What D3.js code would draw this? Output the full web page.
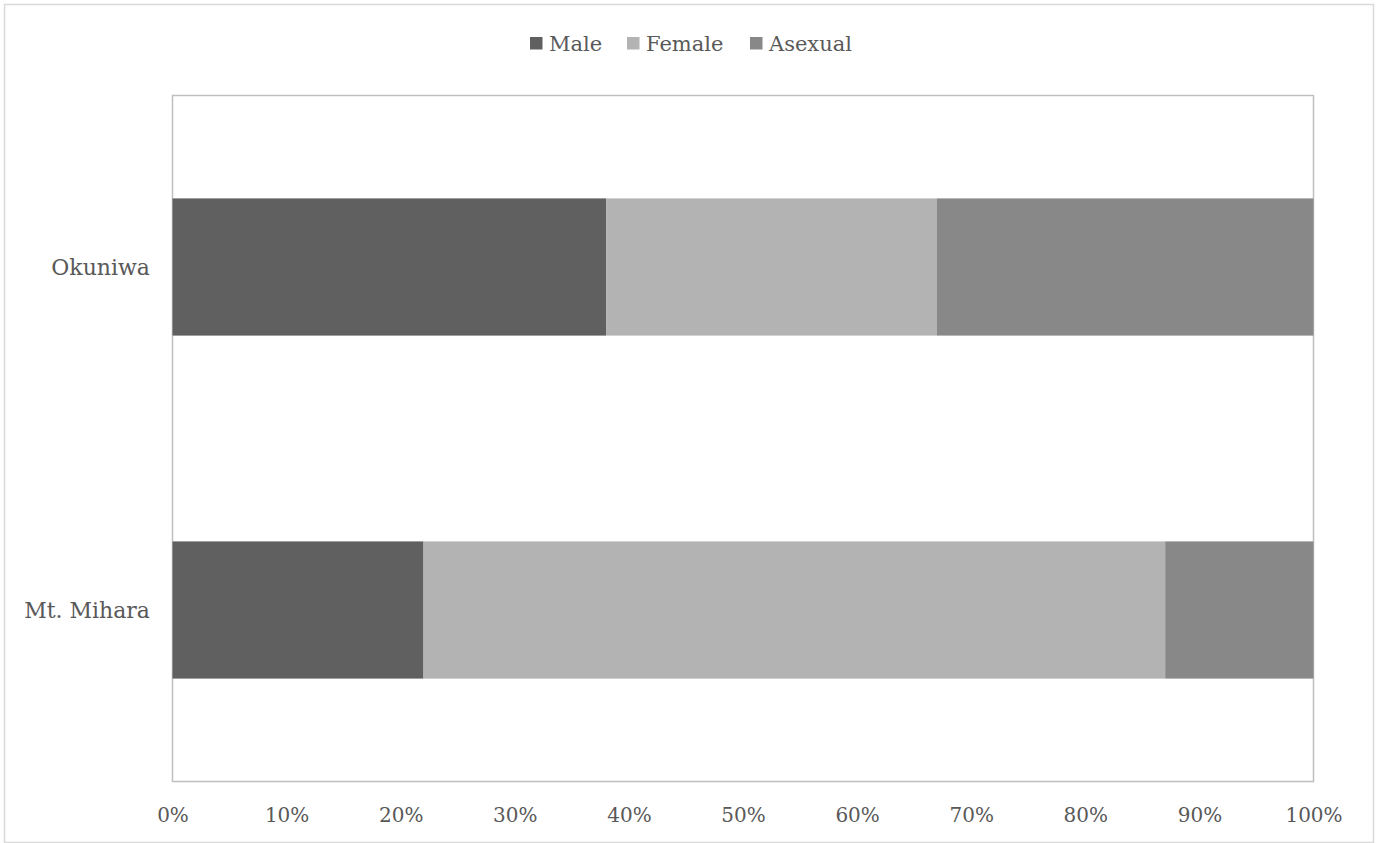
<!DOCTYPE html>
<html>
<head>
<meta charset="utf-8">
<script src="https://cdn.jsdelivr.net/npm/d3@7"></script>
<style>
  html, body { margin: 0; padding: 0; background: #fff; }
  svg text { font-family: "DejaVu Serif", serif; fill: #595959; }
</style>
</head>
<body>
<svg id="chart" width="1378" height="843"></svg>
<script>
const categories = ["Okuniwa", "Mt. Mihara"];
const seriesNames = ["Male", "Female", "Asexual"];
const maleValues = [38, 22];
const femaleValues = [29, 65];
const asexualValues = [33, 13];
const tickValues = [0, 0.1, 0.2, 0.3, 0.4, 0.5, 0.6, 0.7, 0.8, 0.9, 1.0];
const colors = ["#606060", "#b3b3b3", "#888888"];

const svg = d3.select("#chart");
const W = 1378, H = 843;
const plot = { left: 172.5, right: 1313.5, top: 95.5, bottom: 781.5 };

// outer border
svg.append("rect").attr("x", 4.5).attr("y", 4.5).attr("width", W - 9).attr("height", H - 5)
  .attr("fill", "#fff").attr("stroke", "#d9d9d9").attr("stroke-width", 1.5);

const rows = categories.map((c, i) => ({
  cat: c, Male: maleValues[i], Female: femaleValues[i], Asexual: asexualValues[i]
}));
rows.forEach(r => { const t = r.Male + r.Female + r.Asexual; seriesNames.forEach(k => r[k] = r[k] / t); });

const stack = d3.stack().keys(seriesNames)(rows);

const x = d3.scaleLinear().domain([0, 1]).range([plot.left, plot.right]);
const y = d3.scaleBand().domain(categories).range([plot.top, plot.bottom]).paddingInner(0.6).paddingOuter(0.3);

// plot area border
svg.append("rect").attr("x", plot.left).attr("y", plot.top)
  .attr("width", plot.right - plot.left).attr("height", plot.bottom - plot.top)
  .attr("fill", "none").attr("stroke", "#bfbfbf").attr("stroke-width", 1.5);

svg.append("g").selectAll("g").data(stack).join("g")
  .attr("fill", (d, i) => colors[i])
  .selectAll("rect").data(d => d).join("rect")
  .attr("x", d => x(d[0]))
  .attr("width", d => x(d[1]) - x(d[0]))
  .attr("y", d => y(d.data.cat))
  .attr("height", y.bandwidth());

// x axis
const xAxis = d3.axisBottom(x).tickValues(tickValues).tickFormat(d3.format(".0%")).tickSize(0).tickPadding(0);
const gx = svg.append("g").attr("transform", `translate(0, ${plot.bottom})`).call(xAxis);
gx.select(".domain").remove();
gx.selectAll("text").attr("dy", null).attr("y", 40).attr("font-size", 20)
  .style("font-family", "'DejaVu Serif', serif").attr("fill", "#595959");

// y axis
const yAxis = d3.axisLeft(y).tickSize(0).tickPadding(0);
const gy = svg.append("g").attr("transform", `translate(150, 0)`).call(yAxis);
gy.select(".domain").remove();
gy.selectAll("text").attr("font-size", 22).attr("dy", "0.35em")
  .style("font-family", "'DejaVu Serif', serif").attr("fill", "#595959");

// legend
const legendX = [530, 627, 750];
const lg = svg.append("g");
seriesNames.forEach((s, i) => {
  lg.append("rect").attr("x", legendX[i]).attr("y", 37).attr("width", 12.5).attr("height", 12.5).attr("fill", colors[i]);
  lg.append("text").attr("x", legendX[i] + 19).attr("y", 51).attr("font-size", 21).text(s);
});
</script>
</body>
</html>
